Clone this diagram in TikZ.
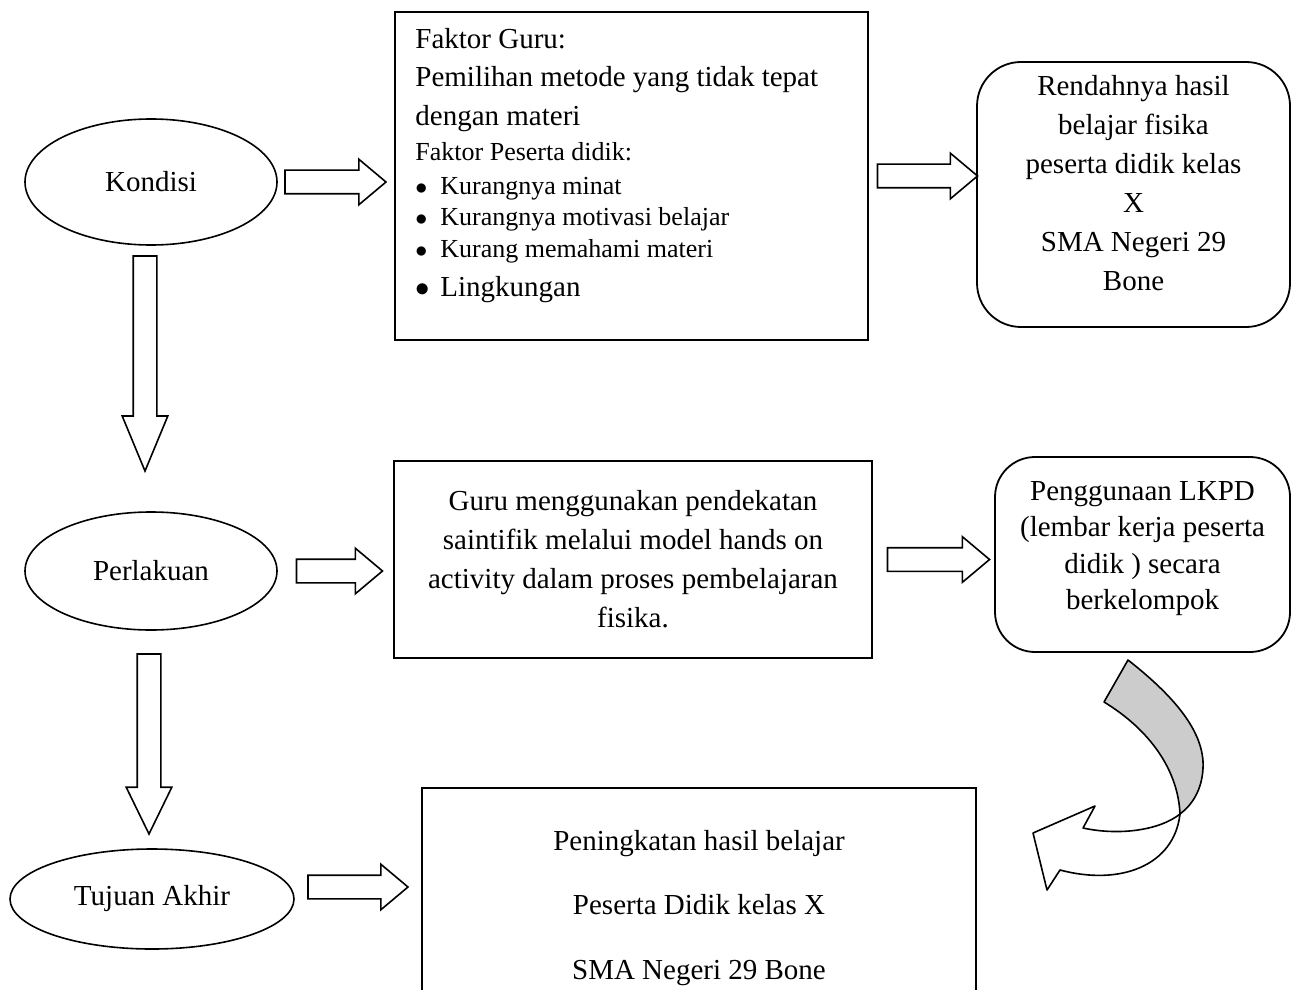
\documentclass[tikz,border=0pt]{standalone}
\usepackage{fontspec}
\setmainfont{Liberation Serif}
\usetikzlibrary{shapes.geometric, shapes.arrows}

\newcommand{\blt}{\makebox[12.5pt][l]{$\bullet$}}

\tikzset{
  every node/.style={font=\fontsize{14.5}{19.5}\selectfont},
  state/.style={draw, ellipse, line width=0.8pt, inner sep=0pt},
  box/.style={draw, rectangle, line width=0.9pt, inner sep=0pt},
  rbox/.style={box, rounded corners=22pt},
  txt/.style={align=center, inner sep=0pt},
  item/.style={anchor=base west, inner sep=0pt},
  small/.style={font=\fontsize{13}{16}\selectfont},
  harrow/.style={draw, single arrow, line width=0.8pt, inner xsep=0pt, inner ysep=5.5pt,
    minimum width=22pt, single arrow head extend=5.5pt, single arrow tip angle=80},
  varrow/.style={harrow, sloped},
  bent/.style={draw, line width=0.8pt, line join=round},
}

\begin{document}
\begin{tikzpicture}[x=0.5pt, y=-0.5pt]
  \useasboundingbox (0,0) rectangle (1293,989);
  \clip (0,0) rectangle (1293,989);

  % Stages on the left
  \node[state, minimum width=126pt, minimum height=63pt] (kondisi) at (151,182) {Kondisi};
  \node[state, minimum width=126pt, minimum height=59pt] (perlakuan) at (151,571) {Perlakuan};
  \node[state, minimum width=142pt, minimum height=50pt] (tujuan) at (152,899) {Tujuan Akhir};

  % Factor box
  \node[box, minimum width=236.5pt, minimum height=164pt] (faktor) at (631.5,176) {};
  \node[item] (fk1) at (415,49) {Faktor Guru:};
  \node[item] (fk2) at (415,87) {Pemilihan metode yang tidak tepat};
  \node[item] (fk3) at (415,126) {dengan materi};
  \node[item, small] (fk4) at (415,161) {Faktor Peserta didik:};
  \node[item, small] (fk5) at (415,195) {\blt Kurangnya minat};
  \node[item, small] (fk6) at (415,226) {\blt Kurangnya motivasi belajar};
  \node[item, small] (fk7) at (415,258) {\blt Kurang memahami materi};
  \node[item] (fk8) at (415,297) {\blt Lingkungan};

  % Result box
  \node[rbox, minimum width=156.5pt, minimum height=132.5pt] (rendah) at (1133.5,194.5) {};
  \node[txt, yshift=5.5pt] (rendahtxt) at (rendah.center)
    {Rendahnya hasil\\ belajar fisika\\ peserta didik kelas\\ X\\ SMA Negeri 29\\ Bone};

  % Treatment boxes
  \node[box, minimum width=239pt, minimum height=98.5pt] (guru) at (633,559.5) {};
  \node[txt] (gurutxt) at (guru.center)
    {Guru menggunakan pendekatan\\ saintifik melalui model hands on\\ activity dalam proses pembelajaran\\ fisika.};

  \node[box, rounded corners=20pt, minimum width=147.5pt, minimum height=97.5pt] (lkpd) at (1142.5,554.5) {};
  \node[txt, yshift=3pt, font=\fontsize{14.5}{18.25}\selectfont] (lkpdtxt) at (lkpd.center)
    {Penggunaan LKPD\\ (lembar kerja peserta\\ didik ) secara\\ berkelompok};

  % Goal box (runs off the page)
  \node[box, minimum width=277pt, minimum height=111pt] (hasil) at (699,899) {};
  \node[txt, yshift=-4.5pt, font=\fontsize{14.5}{32.25}\selectfont] (hasiltxt) at (hasil.center)
    {Peningkatan hasil belajar\\ Peserta Didik kelas X\\ SMA Negeri 29 Bone};

  % Block arrows
  \path (kondisi.east) -- (kondisi.east -| faktor.west)
    node[harrow, midway, xshift=-3.75pt, minimum height=50.5pt] (ar1) {};
  \path (faktor.east) -- (faktor.east -| rendah.west)
    node[harrow, midway, xshift=-1pt, minimum height=50pt] (ar2) {};
  \path (perlakuan.east) -- (perlakuan.east -| guru.west)
    node[harrow, midway, xshift=-1.5pt, minimum height=43pt] (ar3) {};
  \path (guru.east) -- (guru.east -| lkpd.west)
    node[harrow, midway, xshift=-1pt, minimum height=51pt] (ar4) {};
  \path ([yshift=6pt]tujuan.east) -- ([yshift=6pt]tujuan.east -| hasil.west)
    node[harrow, midway, xshift=-3.5pt, minimum height=50pt] (ar5) {};
  \path ([xshift=-3pt]kondisi.south) -- ([xshift=-3pt]kondisi.south |- perlakuan.north)
    node[varrow, pos=0.39, minimum height=107.5pt, single arrow tip angle=45] (ad1) {};
  \path ([xshift=-1pt]perlakuan.south) -- ([xshift=-1pt]perlakuan.south |- tujuan.north)
    node[varrow, pos=0.465, minimum height=90pt, single arrow tip angle=52] (ad2) {};

  % Curved arrow back to the goal
  \draw[bent, fill=black!20] (1128,660) .. controls (1170,693) and (1205,730) .. (1203,768)
    .. controls (1202,790) and (1192,805) .. (1180,814)
    .. controls (1178,770) and (1150,730) .. (1104,702) -- cycle;
  \draw[bent, fill=white] (1180,814) .. controls (1174,866) and (1120,886) .. (1060,870)
    -- (1047,890) -- (1033,833) -- (1095,806) -- (1083,828)
    .. controls (1120,836) and (1160,830) .. (1180,814) -- cycle;
\end{tikzpicture}
\end{document}
